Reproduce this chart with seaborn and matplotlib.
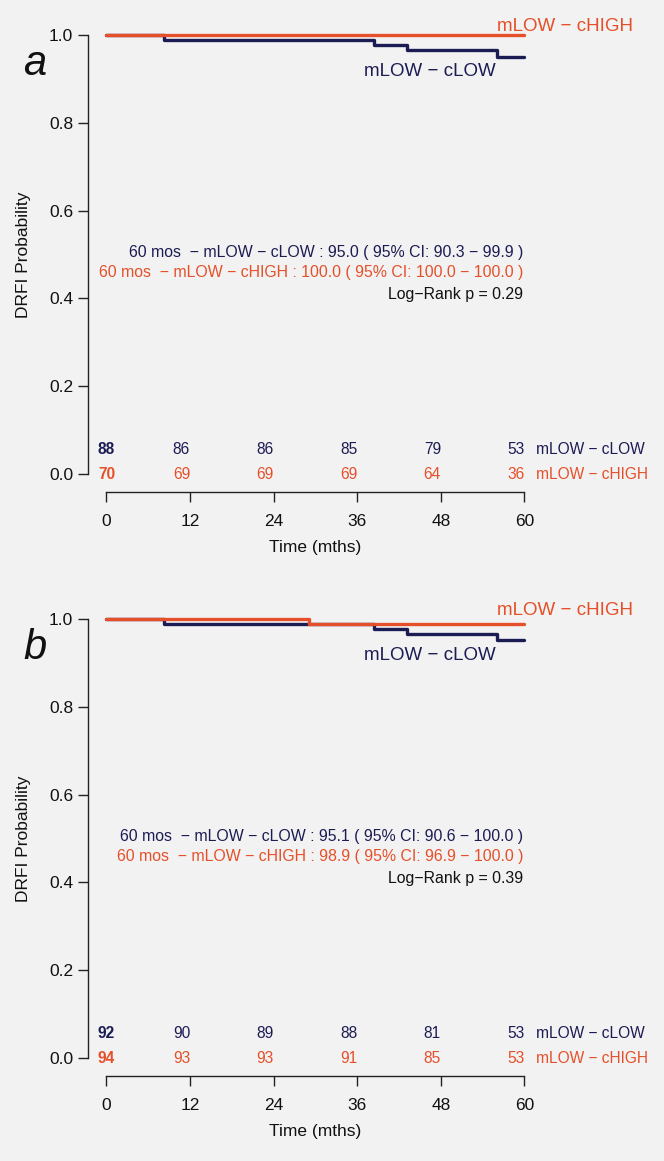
import pandas as pd
import matplotlib.pyplot as plt
import seaborn as sns

NAVY = "#1c1c54"
ORANGE = "#e5502a"
BG = "#f2f2f2"

GROUPS = ["mLOW \u2212 cLOW", "mLOW \u2212 cHIGH"]

# panel a: Kaplan-Meier steps
A_LOW_T = [0, 8.3, 38.4, 43.1, 56.1, 60]
A_LOW_S = [1.0, 0.989, 0.977, 0.966, 0.950, 0.950]
A_HIGH_T = [0, 60]
A_HIGH_S = [1.0, 1.0]

# panel b
B_LOW_T = [0, 8.3, 38.4, 43.1, 56.1, 60]
B_LOW_S = [1.0, 0.989, 0.978, 0.966, 0.951, 0.951]
B_HIGH_T = [0, 29.1, 60]
B_HIGH_S = [1.0, 0.989, 0.989]

RISK_TIMES = [0, 12, 24, 36, 48, 60]
A_RISK_LOW = [88, 86, 86, 85, 79, 53]
A_RISK_HIGH = [70, 69, 69, 69, 64, 36]
B_RISK_LOW = [92, 90, 89, 88, 81, 53]
B_RISK_HIGH = [94, 93, 93, 91, 85, 53]

A_TEXT = [
    "60 mos  \u2212 mLOW \u2212 cLOW : 95.0 ( 95% CI: 90.3 \u2212 99.9 )",
    "60 mos  \u2212 mLOW \u2212 cHIGH : 100.0 ( 95% CI: 100.0 \u2212 100.0 )",
    "Log\u2212Rank p = 0.29",
]
B_TEXT = [
    "60 mos  \u2212 mLOW \u2212 cLOW : 95.1 ( 95% CI: 90.6 \u2212 100.0 )",
    "60 mos  \u2212 mLOW \u2212 cHIGH : 98.9 ( 95% CI: 96.9 \u2212 100.0 )",
    "Log\u2212Rank p = 0.39",
]

sns.set_theme(style="ticks")
plt.rcParams["font.family"] = ["Liberation Sans", "DejaVu Sans"]
plt.rcParams["axes.unicode_minus"] = True

W, H = 664, 1161
fig = plt.figure(figsize=(W / 100, H / 100), dpi=100, facecolor=BG)


def px_axes(left, top, right, bottom):
    return fig.add_axes([left / W, 1 - bottom / H, (right - left) / W, (bottom - top) / H])


def km_panel(ax, low_t, low_s, high_t, high_s, risk_low, risk_high, texts, letter):
    ax.set_facecolor(BG)
    df = pd.concat([
        pd.DataFrame({"time": low_t, "surv": low_s, "group": GROUPS[0]}),
        pd.DataFrame({"time": high_t, "surv": high_s, "group": GROUPS[1]}),
    ])
    sns.lineplot(data=df, x="time", y="surv", hue="group", palette=[NAVY, ORANGE],
                 estimator=None, sort=False, drawstyle="steps-post",
                 linewidth=2.4, legend=False, ax=ax)
    ax.set_xlim(-2.61, 62.4)
    ax.set_ylim(-0.04, 1.04)
    for s in ["top", "right"]:
        ax.spines[s].set_visible(False)
    ax.spines["left"].set_bounds(0, 1)
    ax.spines["bottom"].set_bounds(0, 60)
    for s in ["left", "bottom"]:
        ax.spines[s].set_color("#222222")
        ax.spines[s].set_linewidth(1.0)
    ax.set_xticks(RISK_TIMES)
    ax.set_yticks([0, 0.2, 0.4, 0.6, 0.8, 1.0])
    ax.set_yticklabels(["0.0", "0.2", "0.4", "0.6", "0.8", "1.0"])
    ax.tick_params(axis="both", length=7, width=1.0, color="#222222",
                   labelsize=12.5, labelcolor="#111111", pad=4)
    ax.tick_params(axis="x", pad=9)
    ax.set_xlabel("Time (mths)", fontsize=12.5, color="#111111", labelpad=8)
    ax.set_ylabel("DRFI Probability", fontsize=12.5, color="#111111", labelpad=13)

    # curve labels
    ax.text(56.0, 1.02, GROUPS[1], color=ORANGE, fontsize=13.5, ha="left", va="center")
    ax.text(46.4, 0.917, GROUPS[0], color=NAVY, fontsize=13.5, ha="center", va="center")

    # 60-month estimates
    for txt, y, c in zip(texts, [0.505, 0.459, 0.409], [NAVY, ORANGE, "#111111"]):
        ax.text(59.8, y, txt, color=c, fontsize=11.4, ha="right", va="center")

    # numbers at risk
    for i, t in enumerate(RISK_TIMES):
        w = "bold" if i == 0 else "normal"
        ha = "center" if i == 0 else "right"
        ax.text(t, 0.055, str(risk_low[i]), color=NAVY, fontsize=11.2, ha=ha,
                va="center", fontweight=w)
        ax.text(t, 0.0, str(risk_high[i]), color=ORANGE, fontsize=11.2, ha=ha,
                va="center", fontweight=w)
    ax.text(61.6, 0.055, GROUPS[0], color=NAVY, fontsize=11.2, ha="left", va="center",
            clip_on=False)
    ax.text(61.6, 0.0, GROUPS[1], color=ORANGE, fontsize=11.2, ha="left", va="center",
            clip_on=False)

    ax.text(-10.3, 0.935, letter, fontsize=30, fontstyle="italic", ha="center",
            va="center", color="#111111")


ax_a = px_axes(88.3, 17.4, 541.2, 491.6)
km_panel(ax_a, A_LOW_T, A_LOW_S, A_HIGH_T, A_HIGH_S, A_RISK_LOW, A_RISK_HIGH, A_TEXT, "a")

ax_b = px_axes(88.3, 17.4 + 584, 541.2, 491.6 + 584)
km_panel(ax_b, B_LOW_T, B_LOW_S, B_HIGH_T, B_HIGH_S, B_RISK_LOW, B_RISK_HIGH, B_TEXT, "b")

fig.savefig("out.png", dpi=100, facecolor=BG)
